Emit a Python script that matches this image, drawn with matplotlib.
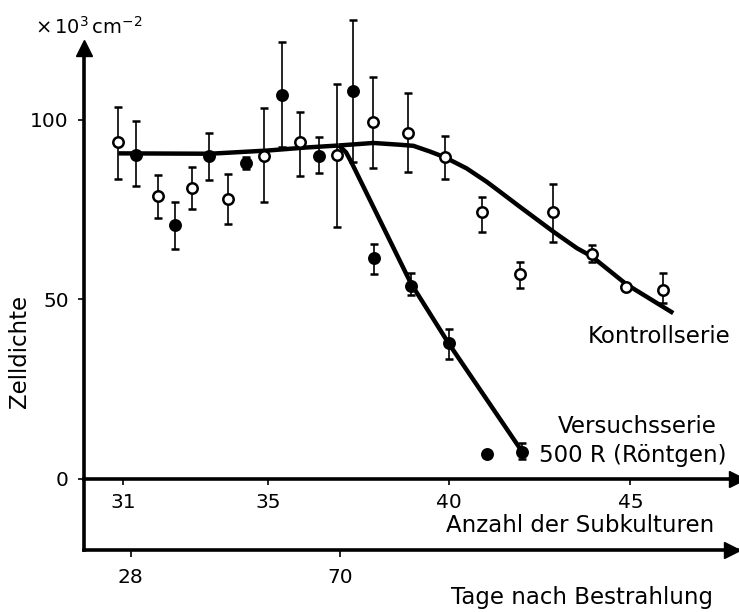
import numpy as np
import matplotlib
matplotlib.use('Agg')
import matplotlib.pyplot as plt

# Versuchsserie 500 R (filled circles)
vs_x = [31.36, 32.43, 33.37, 34.38, 35.38, 36.41, 37.35, 37.93, 38.94, 39.98, 41.03, 42.02]
vs_y = [90.2, 70.8, 90.1, 88.1, 107.0, 90.1, 108.1, 61.5, 53.8, 37.8, 7.0, 7.6]
vs_top = [99.8, 77.2, 96.3, 89.8, 121.6, 95.3, 127.9, 65.4, 57.3, 41.7, 7.0, 9.9]
vs_bot = [81.6, 64.0, 83.3, 86.3, 92.6, 85.2, 88.4, 57.1, 51.3, 33.3, 7.0, 5.5]

# Kontrollserie (open circles)
ks_x = [30.87, 31.95, 32.90, 33.90, 34.89, 35.88, 36.90, 37.89, 38.87, 39.88,
        40.91, 41.95, 42.87, 43.93, 44.89, 45.90]
ks_y = [94.0, 78.9, 81.0, 78.0, 90.1, 93.8, 90.2, 99.4, 96.3, 89.8,
        74.3, 57.1, 74.4, 62.6, 53.4, 52.6]
ks_top = [103.5, 84.7, 86.8, 85.0, 103.3, 102.1, 109.9, 111.9, 107.4, 95.5,
          78.6, 60.3, 82.1, 65.2, 53.4, 57.5]
ks_bot = [83.6, 72.6, 75.1, 70.9, 77.2, 84.4, 70.3, 86.7, 85.6, 83.6,
          68.9, 53.1, 66.1, 60.5, 53.4, 48.9]

# fitted curves
flat_x = [30.87, 33.4, 35.0, 36.0, 36.95]
flat_y = [90.7, 90.6, 91.5, 92.3, 92.9]
kfit_x = [36.95, 37.5, 37.9, 38.64, 39.01, 39.47, 39.88, 40.48, 41.03, 41.40,
          41.95, 42.87, 43.52, 43.93, 44.89, 46.18]
kfit_y = [92.9, 93.3, 93.6, 93.1, 92.8, 91.2, 89.6, 86.5, 82.8, 80.0,
          75.8, 68.9, 64.3, 62.0, 54.2, 46.2]
vfit_x = [36.95, 37.15, 37.3, 38.94, 39.98, 41.95]
vfit_y = [92.9, 91.0, 88.2, 54.5, 37.8, 8.5]

sub_ticks = [31, 35, 40, 45]
y_ticks = [0, 50, 100]
day_ticks = [28, 70]
s28, s70 = 31.21, 36.99  # subculture position of day ticks


def s2d(s):
    return 28 + (np.asarray(s) - s28) * 42.0 / (s70 - s28)


def d2s(d):
    return s28 + (np.asarray(d) - 28) * (s70 - s28) / 42.0


plt.rcParams['font.family'] = 'DejaVu Sans'
plt.rcParams['font.size'] = 14.5

fig = plt.figure(figsize=(7.39, 6.12), dpi=100)
ax = fig.add_axes([0.1137, 0.1013, 0.8836, 0.8203])
ax.set_xlim(29.92, 47.94)
ax.set_ylim(-19.8, 120.06)

lw_axis = 2.6
for sp in ['top', 'right']:
    ax.spines[sp].set_visible(False)
ax.spines['left'].set_linewidth(lw_axis)
ax.spines['bottom'].set_position(('data', 0))
ax.spines['bottom'].set_linewidth(lw_axis)

ax.set_xticks(sub_ticks)
ax.set_yticks(y_ticks)
ax.tick_params(axis='x', direction='out', length=4, width=1.2, pad=6, labelsize=14.5)
ax.tick_params(axis='y', direction='out', length=4, width=1.2, pad=7, labelsize=14.5)

# day axis below
sec = ax.secondary_xaxis(0.0, functions=(s2d, d2s))
sec.set_xticks(day_ticks)
sec.spines['bottom'].set_linewidth(lw_axis)
sec.tick_params(direction='out', length=5, width=1.2, pad=8, labelsize=14.5)

# arrow heads
ax.plot([0], [1], marker='^', ms=11, color='black', transform=ax.transAxes, clip_on=False)
ax.plot([1], [0], marker='>', ms=11, color='black', transform=ax.get_yaxis_transform(),
        clip_on=False)
ax.plot([0.993], [0], marker='>', ms=11, color='black', transform=ax.transAxes,
        clip_on=False)

# fitted lines
ax.plot(flat_x, flat_y, color='black', lw=3.2, solid_capstyle='butt', zorder=3)
ax.plot(kfit_x, kfit_y, color='black', lw=3.2, solid_capstyle='butt',
        solid_joinstyle='round', zorder=3)
ax.plot(vfit_x, vfit_y, color='black', lw=3.2, solid_capstyle='butt',
        solid_joinstyle='round', zorder=3)

# data with error bars
vs_err = [np.array(vs_y) - np.array(vs_bot), np.array(vs_top) - np.array(vs_y)]
ks_err = [np.array(ks_y) - np.array(ks_bot), np.array(ks_top) - np.array(ks_y)]
for x, y, err, face in [(vs_x, vs_y, vs_err, 'black'), (ks_x, ks_y, ks_err, 'white')]:
    line, caps, bars = ax.errorbar(x, y, yerr=err, fmt='o', ms=7.5, mfc=face, mec='black',
                                   mew=1.8, ecolor='black', elinewidth=1.2, capsize=3,
                                   capthick=1.2, zorder=4)
    line.set_clip_on(False)
    for c in caps:
        c.set_clip_on(False)
    for b in bars:
        b.set_clip_on(False)

# labels
fs = 16.5
ax.text(43.83, 39.6, 'Kontrollserie', ha='left', va='center', fontsize=fs)
ax.text(45.18, 14.5, 'Versuchsserie', ha='center', va='center', fontsize=fs)
ax.text(45.07, 6.6, '500 R (Röntgen)', ha='center', va='center', fontsize=fs)
ax.text(43.6, -13.1, 'Anzahl der Subkulturen', ha='center', va='center', fontsize=fs)
ax.text(43.66, -32.9, 'Tage nach Bestrahlung', ha='center', va='center', fontsize=fs)
fig.text(0.027, 0.4265, 'Zelldichte', rotation=90, ha='center', va='center', fontsize=fs)
fig.text(0.12, 0.956, r'$\times\,10^3\,\mathrm{cm}^{-2}$', ha='center', va='center',
         fontsize=14)

fig.savefig('out.png', dpi=100)
